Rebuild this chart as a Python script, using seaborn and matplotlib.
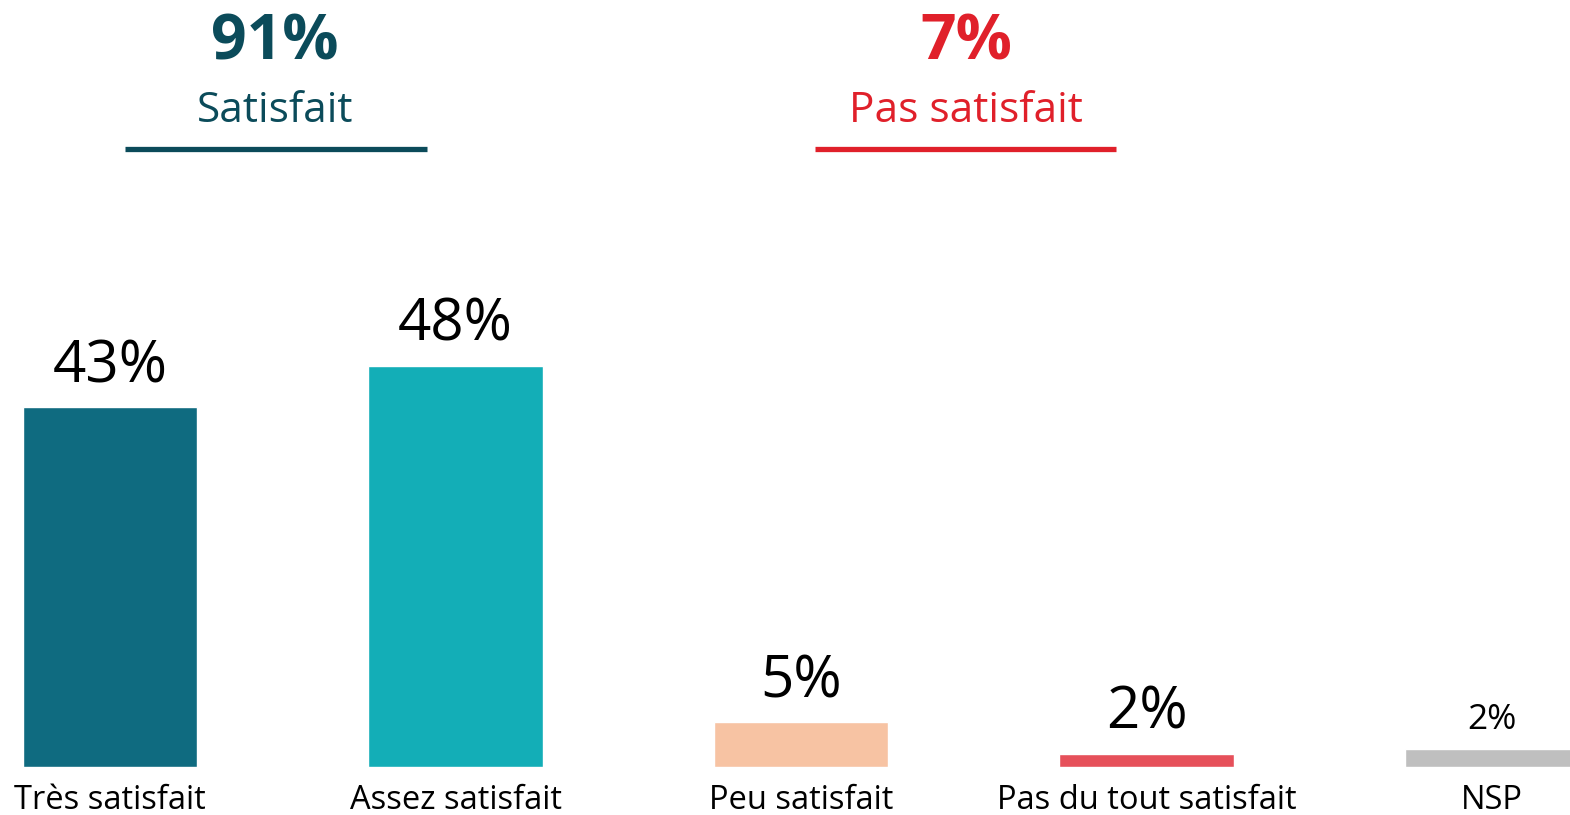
import matplotlib
matplotlib.use("Agg")
import matplotlib.pyplot as plt
import seaborn as sns
import pandas as pd

categories = ["Très satisfait", "Assez satisfait", "Peu satisfait", "Pas du tout satisfait", "NSP"]
values = [43, 48, 5.3, 1.5, 2.1]
value_labels = ["43%", "48%", "5%", "2%", "2%"]
bar_colors = ["#0F6B80", "#13AEB7", "#F7C3A3", "#E6505A", "#BFBFBF"]

group_values = ["91%", "7%"]
group_names = ["Satisfait", "Pas satisfait"]
group_colors = ["#0B4B5A", "#E0202A"]

sns.set_theme(style="white")
plt.rcParams["font.family"] = ["Open Sans", "DejaVu Sans"]

W, H = 1570, 815
fig = plt.figure(figsize=(W / 100, H / 100), dpi=100)
base_px = 766.5
ppu = 8.35
ax = fig.add_axes([0, (H - base_px) / H, 1, base_px / H])

df = pd.DataFrame({"cat": categories, "val": values})
sns.barplot(data=df, x="cat", y="val", hue="cat", palette=bar_colors,
            legend=False, width=0.504, saturation=1, ax=ax)

step = 345.5
x0 = 110
ax.set_xlim((0 - x0) / step, (W - x0) / step)
ax.set_ylim(0, base_px / ppu)
ax.axis("off")

def py(px):
    return (base_px - px) / ppu

# value labels
for i, (v, lab) in enumerate(zip(values, value_labels)):
    small = i == 4
    ax.annotate(lab, (i, v), xytext=(0, 14.4 if small else 18), textcoords="offset points",
                ha="center", va="baseline", fontsize=25.5 if small else 42, color="black")

# category labels
for i, c in enumerate(categories):
    ax.text(i, py(809), c, ha="center", va="baseline", fontsize=23.5, color="black", clip_on=False)

# group headers
centers = [(275 - x0) / step, (966 - x0) / step]
spans = [((125 - x0) / step, (427 - x0) / step), ((815 - x0) / step, (1116 - x0) / step)]
for gv, gn, gc, cx, (a, b) in zip(group_values, group_names, group_colors, centers, spans):
    ax.text(cx, py(60), gv, ha="center", va="baseline", fontsize=45, fontweight="bold",
            color=gc, clip_on=False)
    ax.text(cx, py(122), gn, ha="center", va="baseline", fontsize=30.5, color=gc, clip_on=False)
    ax.plot([a, b], [py(149), py(149)], color=gc, lw=3.8, solid_capstyle="butt", clip_on=False)

fig.savefig("out.png", dpi=100)
